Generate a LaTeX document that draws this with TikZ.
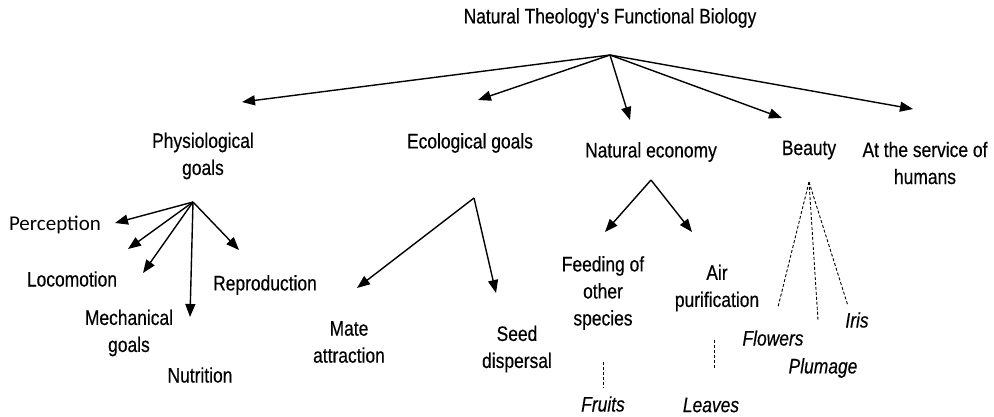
\documentclass[tikz,border=0pt]{standalone}
\usepackage{fontspec}
\setmainfont[FakeStretch=0.83,FakeBold=0.4]{Liberation Sans}
\newfontfamily\calibrifont{Carlito}
\usetikzlibrary{arrows.meta,calc}
\usepackage{tkz-euclide}

\tikzset{
  txt/.style={align=center,inner sep=0pt,font=\fontsize{21}{27}\selectfont},
  itxt/.style={txt,font=\fontsize{21}{27}\selectfont\itshape},
  branch/.style={line width=1.4pt,-{Triangle[length=13pt,width=10pt]}},
  hint/.style={line width=0.9pt,dash pattern=on 3pt off 2pt}
}

\begin{document}
\begin{tikzpicture}[x=1pt,y=-1pt]
\useasboundingbox (0,0) rectangle (994,416);

% hubs and arrow ends
\tkzDefPoints{610/55/T,242/102/tP,478/100/tE,630/120/tN,782/118/tB,913/109/tS}
\tkzDefPoints{193/202/P,115/223/pPer,128/249/pLoc,143/273/pMec,190/317/pNut,239/250/pRep}
\tkzDefPoints{474/198/E,357/288/eMat,496/293/eSee}
\tkzDefPoints{651/180/N,605/232/nFee,692/232/nAir}
\tkzDefPoints{603/362/fTop,603/388/fBot,714/340/lTop,714/368/lBot}
\tkzDefPoints{809/182/B,778/307/bFlo,818/320/bPlu,848/306/bIri}

% labels
\node[txt] (title) at (610,18) {Natural Theology\textquotesingle s Functional Biology};
\node[txt] (physio) at (203,156) {Physiological\\goals};
\node[txt] (eco) at (470,143) {Ecological goals};
\node[txt] (nateco) at (651,152) {Natural economy};
\node[txt] (beauty) at (809,150) {Beauty};
\node[txt] (service) at (925,163) {At the service of\\humans};

\node[txt,font=\fontsize{21}{24}\calibrifont] (percep) at (55,225) {Perception};
\node[txt] (locom) at (72,279) {Locomotion};
\node[txt] (mech) at (129,333) {Mechanical\\goals};
\node[txt] (nutr) at (200,375) {Nutrition};
\node[txt] (repro) at (265,285) {Reproduction};

\node[txt] (mate) at (349,342) {Mate\\attraction};
\node[txt] (seed) at (517,349) {Seed\\dispersal};

\node[txt] (feed) at (603,293) {Feeding of\\other\\species};
\node[txt] (air) at (717,288) {Air\\purification};
\node[itxt] (fruits) at (603,404) {Fruits};
\node[itxt] (leaves) at (711,405) {Leaves};

\node[itxt] (flowers) at (773,338) {Flowers};
\node[itxt] (plumage) at (823,368) {Plumage};
\node[itxt] (iris) at (857,320) {Iris};

% connectors
\foreach \e in {tP,tE,tN,tB,tS}
  \draw[branch] (T) -- (\e);
\foreach \e in {pPer,pLoc,pMec,pNut,pRep}
  \draw[branch] (P) -- (\e);
\foreach \e in {eMat,eSee}
  \draw[branch] (E) -- (\e);
\foreach \e in {nFee,nAir}
  \draw[branch] (N) -- (\e);

\draw[hint] (fTop) -- (fBot);
\draw[hint] (lTop) -- (lBot);
\foreach \e in {bFlo,bPlu,bIri}
  \draw[hint] (B) -- (\e);

\end{tikzpicture}
\end{document}
